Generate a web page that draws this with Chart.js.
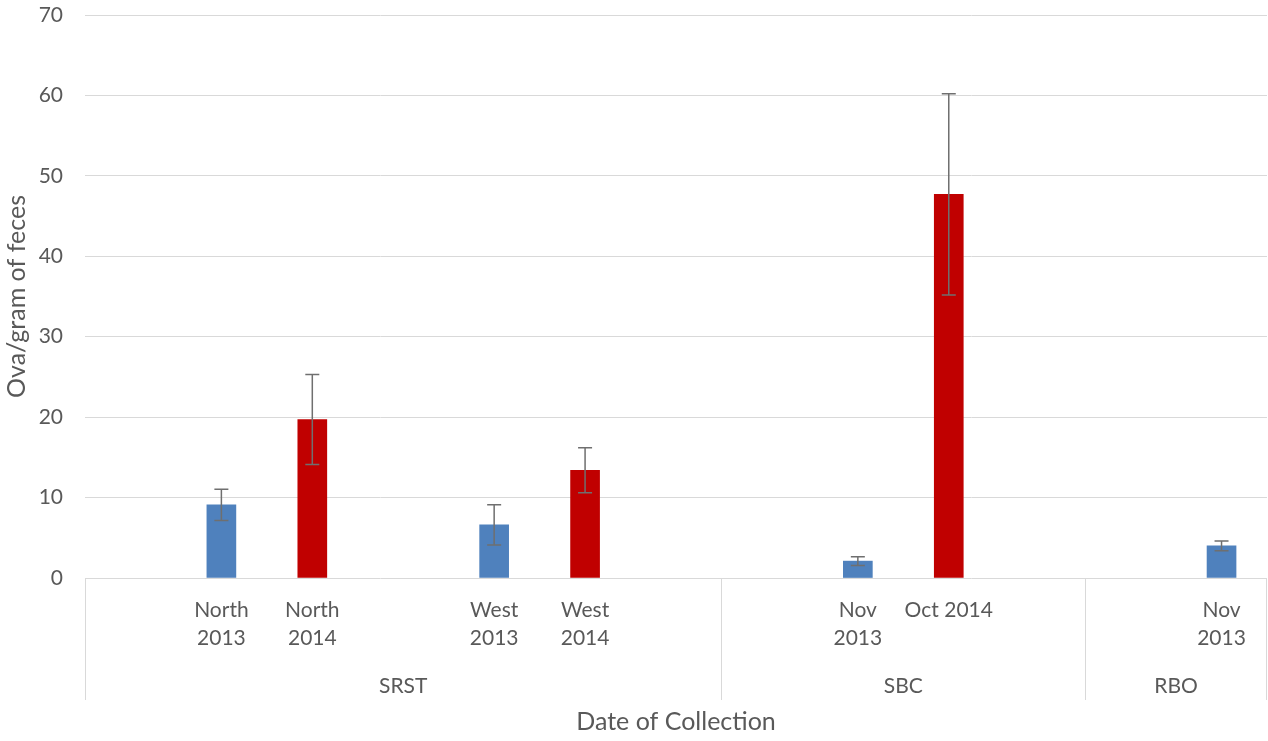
<!DOCTYPE html>
<html>
<head>
<meta charset="utf-8">
<script src="https://cdn.jsdelivr.net/npm/chart.js@4"></script>
<style>
  html, body { margin: 0; padding: 0; background: #fff; }
  #wrap { width: 1268px; height: 741px; }
</style>
</head>
<body>
<div id="wrap"><canvas id="grafico"></canvas></div>
<script>
// slots along the x axis (blank slots give the gaps between bars)
const categories = [
  '', ['North', '2013'], ['North', '2014'], '', ['West', '2013'], ['West', '2014'], '',
  '', ['Nov', '2013'], 'Oct 2014', '',
  '', ['Nov', '2013']
];
const groupNames = ['SRST', 'SBC', 'RBO'];
const groupSizes = [7, 4, 2];

const values2013 = [null, 9.1, null, null, 6.6, null, null, null, 2.1, null, null, null, 4.0];
const values2014 = [null, null, 19.7, null, null, 13.4, null, null, null, 47.7, null, null, null];
const err2013 = [null, 1.95, null, null, 2.5, null, null, null, 0.55, null, null, null, 0.6];
const err2014 = [null, null, 5.6, null, null, 2.8, null, null, null, 12.5, null, null, null];

const yTicks = [0, 10, 20, 30, 40, 50, 60, 70];

const textColor = '#595959';
const lineColor = '#d9d9d9';
const fontName = 'Lato, "Liberation Sans", sans-serif';

// error bars: vertical whisker with caps
const errorBars = {
  id: 'errorBars',
  afterDatasetsDraw(chart) {
    const ctx = chart.ctx;
    const y = chart.scales.y;
    const errs = [err2013, err2014];
    ctx.save();
    ctx.strokeStyle = '#6f6f6f';
    ctx.lineWidth = 1.5;
    chart.data.datasets.forEach((ds, i) => {
      const meta = chart.getDatasetMeta(i);
      meta.data.forEach((bar, j) => {
        const v = ds.data[j];
        const e = errs[i][j];
        if (v == null || e == null) return;
        const top = y.getPixelForValue(v + e);
        const bot = y.getPixelForValue(v - e);
        ctx.beginPath();
        ctx.moveTo(bar.x, top);
        ctx.lineTo(bar.x, bot);
        ctx.moveTo(bar.x - 7, top);
        ctx.lineTo(bar.x + 7, top);
        ctx.moveTo(bar.x - 7, bot);
        ctx.lineTo(bar.x + 7, bot);
        ctx.stroke();
      });
    });
    ctx.restore();
  }
};

// second level of the category axis: group names and divider lines
const groupAxis = {
  id: 'groupAxis',
  afterDraw(chart) {
    const ctx = chart.ctx;
    const x = chart.scales.x;
    const base = chart.chartArea.bottom;
    const slot = x.getPixelForValue(1) - x.getPixelForValue(0);
    ctx.save();
    ctx.strokeStyle = lineColor;
    ctx.lineWidth = 1;
    ctx.fillStyle = textColor;
    ctx.font = '21px ' + fontName;
    ctx.textAlign = 'center';
    ctx.textBaseline = 'middle';
    let start = 0;
    const edges = [x.getPixelForValue(0) - slot / 2];
    groupSizes.forEach((n, g) => {
      const left = x.getPixelForValue(start) - slot / 2;
      const right = x.getPixelForValue(start + n - 1) + slot / 2;
      edges.push(right);
      ctx.fillText(groupNames[g], (left + right) / 2, base + 108);
      start += n;
    });
    edges.forEach(px => {
      const xx = Math.min(Math.round(px) + 0.5, chart.width - 1.5);
      ctx.beginPath();
      ctx.moveTo(xx, base);
      ctx.lineTo(xx, base + 122);
      ctx.stroke();
    });
    ctx.restore();
  }
};

const ctx = document.getElementById('grafico').getContext('2d');

const grafico = new Chart(ctx, {
  type: 'bar',
  data: {
    labels: categories,
    datasets: [{
      label: '2013',
      data: values2013,
      backgroundColor: '#4f81bd',
      barThickness: 29,
      grouped: false
    }, {
      label: '2014',
      data: values2014,
      backgroundColor: '#c00000',
      barThickness: 29,
      grouped: false
    }]
  },
  options: {
    responsive: true,
    maintainAspectRatio: false,
    animation: false,
    layout: { padding: { top: 15, right: 1, left: 0, bottom: 0 } },
    plugins: {
      legend: { display: false },
      tooltip: { enabled: false }
    },
    scales: {
      x: {
        grid: { display: false },
        border: { display: false },
        ticks: {
          autoSkip: false,
          maxRotation: 0,
          padding: 10,
          color: textColor,
          font: { family: fontName, size: 21, lineHeight: 1.35 }
        },
        title: {
          display: true,
          text: 'Date of Collection',
          color: textColor,
          font: { family: fontName, size: 25 },
          padding: { top: 4, bottom: 4 }
        },
        afterFit(scale) { scale.height = 163; }
      },
      y: {
        min: 0,
        max: 70,
        afterBuildTicks(scale) { scale.ticks = yTicks.map(v => ({ value: v })); },
        grid: { color: lineColor, lineWidth: 1, drawTicks: false },
        border: { display: false },
        ticks: {
          padding: 22,
          color: textColor,
          font: { family: fontName, size: 21 }
        },
        title: {
          display: true,
          text: 'Ova/gram of feces',
          color: textColor,
          font: { family: fontName, size: 25 },
          padding: { top: 2, bottom: 4 }
        },
        afterFit(scale) {
          scale.width = 85;
          scale.paddingTop = 0;
          scale.paddingBottom = 0;
        }
      }
    }
  },
  plugins: [errorBars, groupAxis]
});
</script>
</body>
</html>
